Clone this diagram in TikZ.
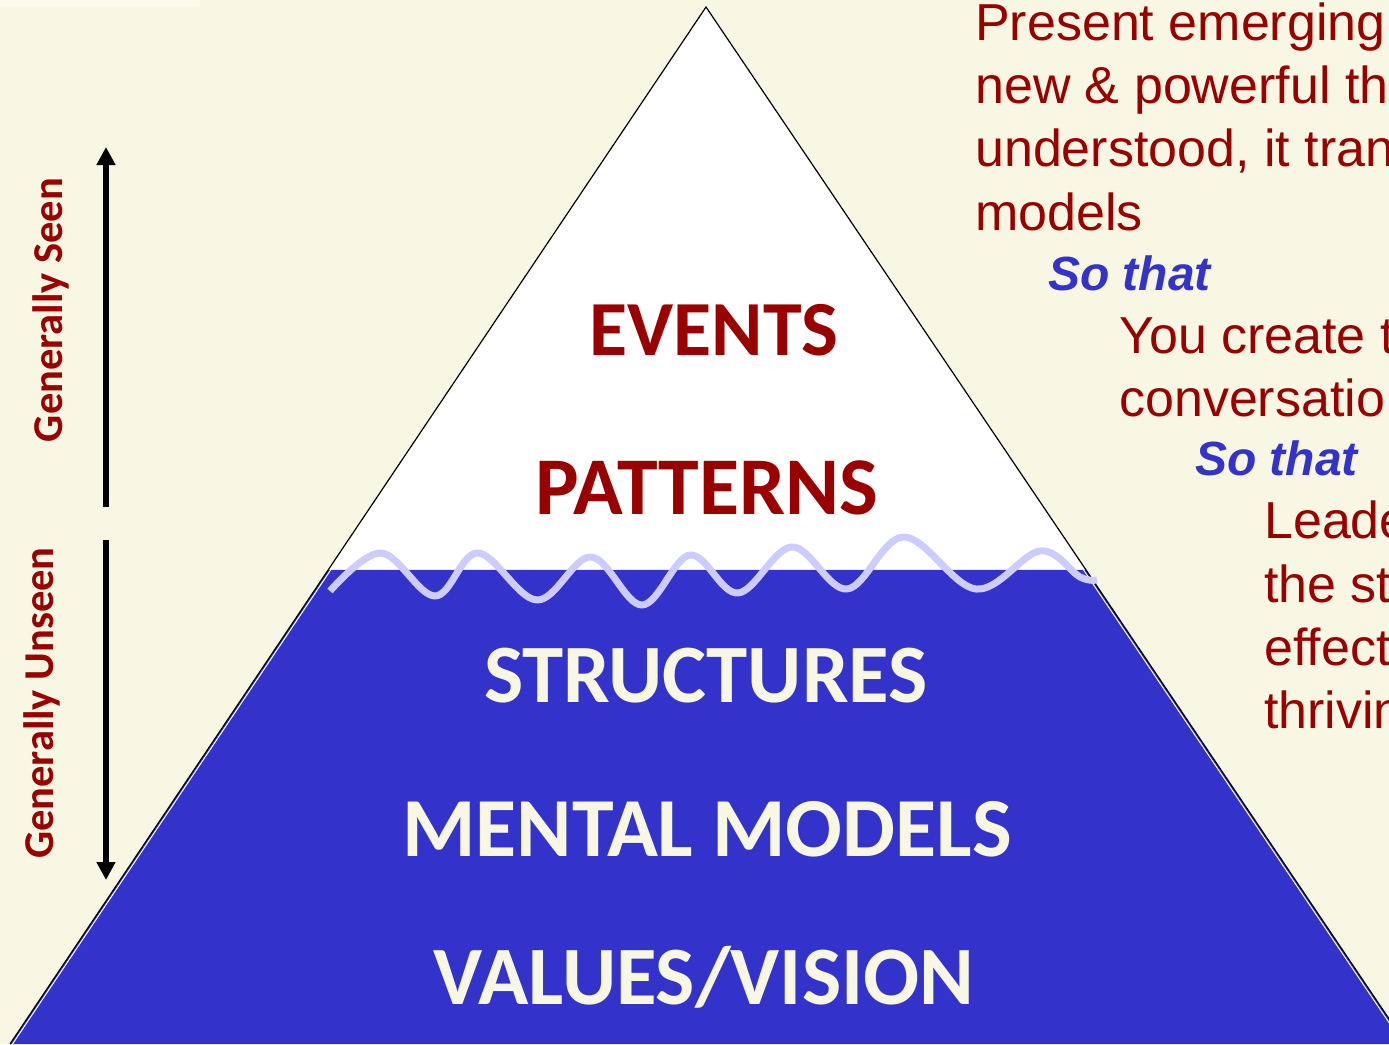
\documentclass[tikz,border=0pt]{standalone}
\usepackage{fontspec}
\setmainfont{Liberation Sans}
\newfontfamily\labelfont{Carlito}
\usetikzlibrary{arrows.meta,calc}
\definecolor{paper}{HTML}{F8F7E4}
\definecolor{strip}{HTML}{FAF9EC}
\definecolor{deepred}{HTML}{990000}
\definecolor{water}{HTML}{3333CC}
\definecolor{foam}{HTML}{CCCCFF}
\definecolor{cream}{HTML}{F8F7E4}
\begin{document}
\begin{tikzpicture}[x=1pt,y=-1pt,
  toplayer/.style={font=\labelfont\bfseries\fontsize{78}{90}\selectfont,
    text=deepred, anchor=base, inner sep=0pt},
  deeplayer/.style={font=\labelfont\bfseries\fontsize{83}{96}\selectfont,
    text=cream, anchor=base, inner sep=0pt},
  sidelabel/.style={font=\labelfont\bfseries\fontsize{42.5}{50}\selectfont,
    text=deepred, anchor=base, rotate=90, inner sep=0pt},
  note/.style={font=\fontsize{52}{62}\selectfont, text=deepred,
    anchor=base west, inner sep=0pt},
  sothat/.style={font=\bfseries\itshape\fontsize{48}{58}\selectfont,
    text=water, anchor=base west, inner sep=0pt},
  bigarrow/.style={line width=5.5pt, -{Triangle[width=18pt,length=18pt]}}]

\useasboundingbox (0,0) rectangle (1389,1044);
\clip (0,0) rectangle (1389,1044);

% background
\fill[paper] (0,0) rectangle (1389,1044);
\fill[strip] (0,0) rectangle (200,7);

% pyramid corners and the water line
\coordinate (apex) at (706,7);
\coordinate (bl) at (10,1044);
\coordinate (br) at (1406,1044);
\coordinate (wl) at ($(apex)!0.5429!(bl)$);
\coordinate (wr) at ($(apex)!0.5429!(br)$);

% visible tip and submerged part
\fill[white] (apex) -- (bl) -- (br) -- cycle;
\fill[water] (wl) -- (bl) -- (br) -- (wr) -- cycle;
\draw[white, line width=1pt] ($(wl)+(2.5,0)$) -- ($(bl)+(2.5,0)$);
\draw[white, line width=1pt] ($(wr)+(-2.5,0)$) -- ($(br)+(-2.5,0)$);
\draw[black, line width=1.2pt] (bl) -- (apex) -- (br);

% waves on the surface
\draw[foam, line width=7pt, line join=round]
  plot[smooth, tension=0.6] coordinates {
    (330,591) (381,553) (435,596) (478,553) (537,600) (591,557)
    (642,605) (690,555) (738,593) (792,547) (847,589) (904,537)
    (976,589) (1040,551) (1080,577) (1097,580)};

% layer titles
\node[toplayer] (events) at (714,355) {EVENTS};
\node[toplayer, font=\labelfont\bfseries\fontsize{82}{94}\selectfont]
  (patterns) at (707,514) {PATTERNS};
\node[deeplayer] (structures) at (706,702) {STRUCTURES};
\node[deeplayer, font=\labelfont\bfseries\fontsize{84}{96}\selectfont]
  (mental) at (707,856) {MENTAL MODELS};
\node[deeplayer] (values) at (704,1004) {VALUES/VISION};

% side labels and arrows
\node[sidelabel] (seen) at (62,310) {Generally Seen};
\node[sidelabel] (unseen) at (53,703) {Generally Unseen};
\coordinate (upfoot) at (106,507);
\coordinate (uptip) at (106,147);
\coordinate (downfoot) at (106,540);
\coordinate (downtip) at (106,880);
\draw[bigarrow] (upfoot) -- (uptip);
\draw[bigarrow] (downfoot) -- (downtip);

% text column on the right
\node[note] (t1) at (975,40) {Present emerging};
\node[note] (t2) at (975,103) {new \& powerful th};
\node[note] (t3) at (975,166) {understood, it tran};
\node[note] (t4) at (975,230) {models};
\node[sothat] (s1) at (1048,290) {So that};
\node[note] (t5) at (1119,353) {You create t};
\node[note] (t6) at (1119,416) {conversatio};
\node[sothat] (s2) at (1195,475) {So that};
\node[note] (t7) at (1264,538) {Leade};
\node[note] (t8) at (1264,602) {the st};
\node[note] (t9) at (1264,665) {effect};
\node[note] (t10) at (1264,728) {thrivin};
\end{tikzpicture}
\end{document}
